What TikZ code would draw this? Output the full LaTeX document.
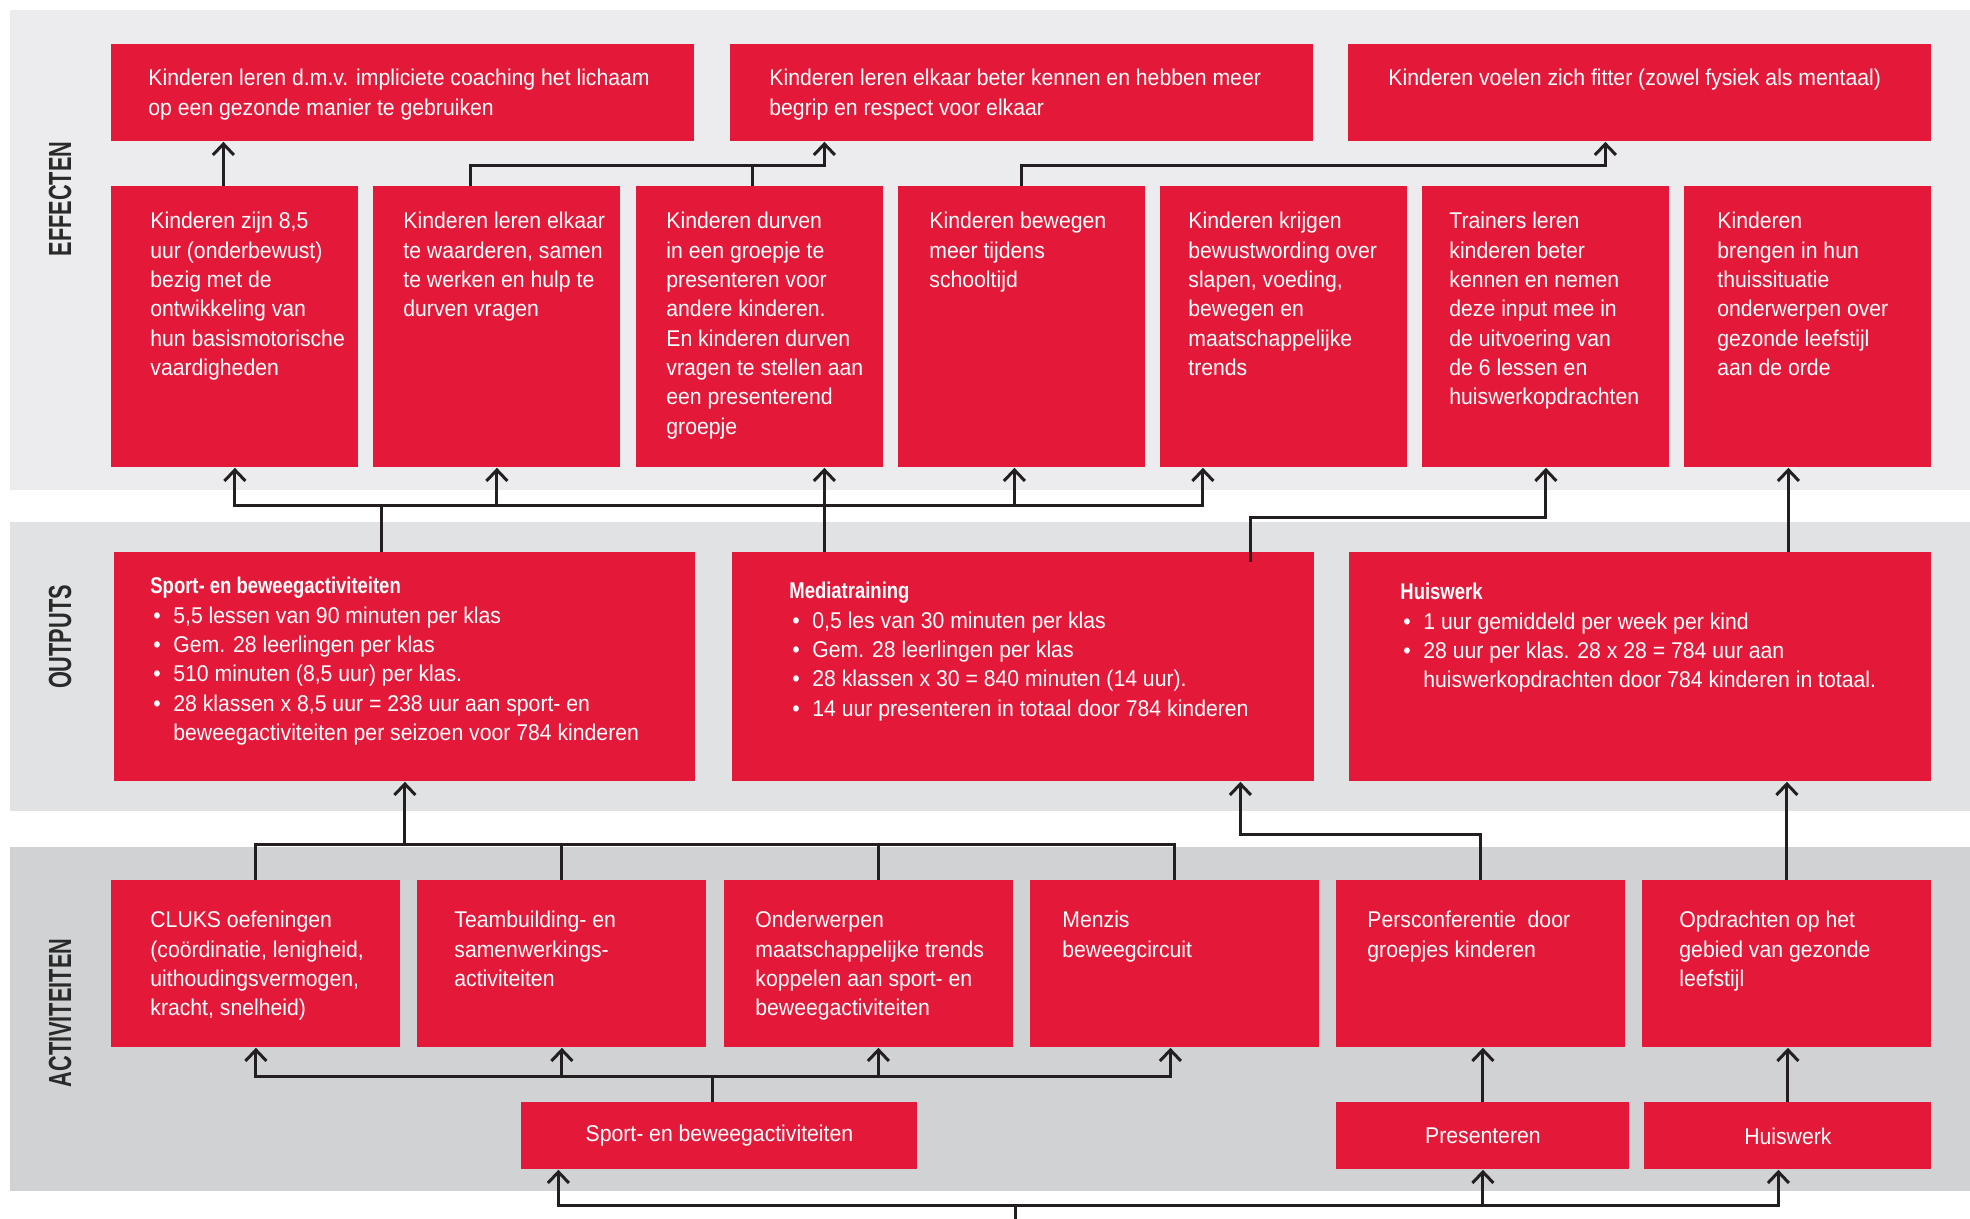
\documentclass[tikz,border=0pt]{standalone}
\usepackage{fontspec}
\setmainfont{Liberation Sans}[UprightFeatures={FakeStretch=0.93}, BoldFeatures={FakeStretch=0.81}]
\newfontfamily\bandfont{Liberation Sans}[FakeStretch=0.68]
\usepackage{tikz}
\usetikzlibrary{arrows.meta}
\usepackage{xcolor}
\definecolor{kred}{HTML}{E4193A}
\definecolor{kline}{HTML}{231F20}
\definecolor{klabel}{HTML}{2A2A2A}
\definecolor{kbandeff}{HTML}{ECECEE}
\definecolor{kbandout}{HTML}{E1E2E4}
\definecolor{kbandact}{HTML}{D1D2D4}
\newcommand{\cellbox}[5]{\parbox[c][#2][t]{#1}{\leftskip=#3\relax\rightskip=-12pt plus 1fil\relax\parindent=0pt\vspace*{#4}#5}}
\newcommand{\pnt}{\par\hangindent=11.5pt\hangafter=1\noindent\makebox[11.5pt][l]{\hspace{1.5pt}\textbullet}}

\begin{document}
\begin{tikzpicture}[x=0.5pt, y=-0.5pt,
    cell/.style={fill=kred, text=white, inner sep=0pt, anchor=north west,
      font=\fontsize{11.4}{14.65}\selectfont},
    tag/.style={cell, minimum height=33.5pt},
    link/.style={draw=kline, line width=1.5pt, -{Straight Barb[length=5.5pt, width=10.5pt]}},
    wire/.style={draw=kline, line width=1.5pt},
    bandlabel/.style={rotate=90, inner sep=0pt, text=klabel,
      font=\bandfont\bfseries\fontsize{16}{18}\selectfont}]
    \useasboundingbox (0,0) rectangle (1970,1219);
    \fill[kbandeff] (10,10) rectangle (1970,490);
    \fill[kbandout] (10,522) rectangle (1970,811);
    \fill[kbandact] (10,847) rectangle (1970,1191);
    \node[bandlabel] (leff) at (60,199) {EFFECTEN};
    \node[bandlabel] (lout) at (60,637) {OUTPUTS};
    \node[bandlabel] (lact) at (60,1013) {ACTIVITEITEN};

    \node[cell] (t1) at (111,44) {\cellbox{291.5pt}{48.5pt}{18.5pt}{12.5pt}{Kinderen leren d.m.v. impliciete coaching het lichaam\\ op een gezonde manier te gebruiken}};
    \node[cell] (t2) at (730,44) {\cellbox{291.5pt}{48.5pt}{19.5pt}{12.5pt}{Kinderen leren elkaar beter kennen en hebben meer\\ begrip en respect voor elkaar}};
    \node[cell] (t3) at (1348,44) {\cellbox{291.5pt}{48.5pt}{20pt}{12.5pt}{Kinderen voelen zich fitter (zowel fysiek als mentaal)}};

    \node[cell] (e1) at (111,186) {\cellbox{123.5pt}{140.5pt}{19.5pt}{13pt}{Kinderen zijn 8,5\\ uur (onderbewust)\\ bezig met de\\ ontwikkeling van\\ hun basismotorische\\ vaardigheden}};
    \node[cell] (e2) at (373,186) {\cellbox{123.5pt}{140.5pt}{15pt}{13pt}{Kinderen leren elkaar\\ te waarderen, samen\\ te werken en hulp te\\ durven vragen}};
    \node[cell] (e3) at (636,186) {\cellbox{123.5pt}{140.5pt}{15pt}{13pt}{Kinderen durven\\ in een groepje te\\ presenteren voor\\ andere kinderen.\\ En kinderen durven\\ vragen te stellen aan\\ een presenterend\\ groepje}};
    \node[cell] (e4) at (898,186) {\cellbox{123.5pt}{140.5pt}{15.5pt}{13pt}{Kinderen bewegen\\ meer tijdens\\ schooltijd}};
    \node[cell] (e5) at (1160,186) {\cellbox{123.5pt}{140.5pt}{14pt}{13pt}{Kinderen krijgen\\ bewustwording over\\ slapen, voeding,\\ bewegen en\\ maatschappelijke\\ trends}};
    \node[cell] (e6) at (1422,186) {\cellbox{123.5pt}{140.5pt}{13.5pt}{13pt}{Trainers leren\\ kinderen beter\\ kennen en nemen\\ deze input mee in\\ de uitvoering van\\ de 6 lessen en\\ huiswerkopdrachten}};
    \node[cell] (e7) at (1684,186) {\cellbox{123.5pt}{140.5pt}{16.5pt}{13pt}{Kinderen\\ brengen in hun\\ thuissituatie\\ onderwerpen over\\ gezonde leefstijl\\ aan de orde}};

    \node[cell] (o1) at (114,552) {\cellbox{290.5pt}{114.5pt}{18pt}{12.5pt}{\textbf{Sport- en beweegactiviteiten}\pnt 5,5 lessen van 90 minuten per klas\pnt Gem. 28 leerlingen per klas\pnt 510 minuten (8,5 uur) per klas.\pnt 28 klassen x 8,5 uur = 238 uur aan sport- en\\ beweegactiviteiten per seizoen voor 784 kinderen}};
    \node[cell] (o2) at (732,552) {\cellbox{291pt}{114.5pt}{28.5pt}{15pt}{\textbf{Mediatraining}\pnt 0,5 les van 30 minuten per klas\pnt Gem. 28 leerlingen per klas\pnt 28 klassen x 30 = 840 minuten (14 uur).\pnt 14 uur presenteren in totaal door 784 kinderen}};
    \node[cell] (o3) at (1349,552) {\cellbox{291pt}{114.5pt}{25.5pt}{15.5pt}{\textbf{Huiswerk}\pnt 1 uur gemiddeld per week per kind\pnt 28 uur per klas. 28 x 28 = 784 uur aan\\ huiswerkopdrachten door 784 kinderen in totaal.}};

    \node[cell] (a1) at (111,880) {\cellbox{144.5pt}{83.5pt}{19.5pt}{15.5pt}{CLUKS oefeningen\\ (coördinatie, lenigheid,\\ uithoudingsvermogen,\\ kracht, snelheid)}};
    \node[cell] (a2) at (417,880) {\cellbox{144.5pt}{83.5pt}{18.5pt}{15.5pt}{Teambuilding- en\\ samenwerkings-\\ activiteiten}};
    \node[cell] (a3) at (724,880) {\cellbox{144.5pt}{83.5pt}{15.5pt}{15.5pt}{Onderwerpen\\ maatschappelijke trends\\ koppelen aan sport- en\\ beweegactiviteiten}};
    \node[cell] (a4) at (1030,880) {\cellbox{144.5pt}{83.5pt}{16pt}{15.5pt}{Menzis\\ beweegcircuit}};
    \node[cell] (a5) at (1336,880) {\cellbox{144.5pt}{83.5pt}{15.5pt}{15.5pt}{Persconferentie\ \ door\\ groepjes kinderen}};
    \node[cell] (a6) at (1642,880) {\cellbox{144.5pt}{83.5pt}{18.5pt}{15.5pt}{Opdrachten op het\\ gebied van gezonde\\ leefstijl}};

    \node[tag, minimum width=198pt] (b1) at (521,1102) {Sport- en beweegactiviteiten};
    \node[tag, minimum width=146.5pt] (b2) at (1336,1102) {Presenteren};
    \node[tag, minimum width=143.5pt] (b3) at (1644,1102) {Huiswerk};

    \coordinate (e1out) at ([xshift=-5.75pt]e1.north);
    \draw[link] (e1out) -- (e1out |- t1.south);
    \draw[link] ([xshift=-13.25pt]e2.north) -- ++(0,-20) -| ([xshift=-98.75pt]t2.south);
    \draw[wire] ([xshift=-3.75pt]e3.north) -- ++(0,-20);
    \draw[link] (e4.north) -- ++(0,-20) -| ([xshift=-17.25pt]t3.south);

    \draw[link] ([xshift=-11.75pt]o1.north) -- ++(0,-47) coordinate (obus) -| (e1.south);
    \draw[link] (obus) -| ([xshift=-40.5pt]e5.south);
    \draw[link] (obus -| e2.south) -- (e2.south);
    \coordinate (e4in) at ([xshift=-3.75pt]e4.south);
    \draw[link] (obus -| e4in) -- (e4in);
    \coordinate (o2a) at ([xshift=-99.5pt]o2.north);
    \draw[link] (o2a) -- (o2a |- e3.south);
    \draw[link] ([xshift=113.5pt, yshift=-5pt]o2.north) -- ++(0,-45) -| (e6.south);
    \coordinate (o3a) at ([xshift=74pt]o3.north);
    \draw[link] (o3a) -- (o3a |- e7.south);

    \draw[link] (a1.north) -- ++(0,-36) coordinate (abus) -| (o1.south);
    \draw[wire] (abus) -| (a4.north);
    \draw[wire] (a2.north) -- (a2.north |- abus);
    \coordinate (a3top) at ([xshift=4.75pt]a3.north);
    \draw[wire] (a3top) -- (a3top |- abus);
    \draw[link] (a5.north) -- ++(0,-46) -| ([xshift=108.5pt]o2.south);
    \draw[link] (a6.north) -- (a6.north |- o3.south);

    \draw[wire] ([xshift=-3.5pt]b1.north) -- ++(0,-26) coordinate (bbus);
    \draw[link] (bbus) -| (a1.south);
    \draw[link] (bbus) -| ([xshift=-2.25pt]a4.south);
    \draw[link] (bbus -| a2.south) -- (a2.south);
    \coordinate (a3bot) at ([xshift=4.75pt]a3.south);
    \draw[link] (bbus -| a3bot) -- (a3bot);
    \draw[link] (b2.north) -- (b2.north |- a5.south);
    \draw[link] (b3.north) -- (b3.north |- a6.south);

    \coordinate (feed) at (1015,1219);
    \draw[wire] (feed) -- ++(0,-14) coordinate (fbus);
    \draw[link] (fbus) -| ([xshift=-80.5pt]b1.south);
    \draw[link] (fbus) -| ([xshift=-4.75pt]b3.south);
    \draw[link] (fbus -| b2.south) -- (b2.south);
  \end{tikzpicture}
\end{document}
